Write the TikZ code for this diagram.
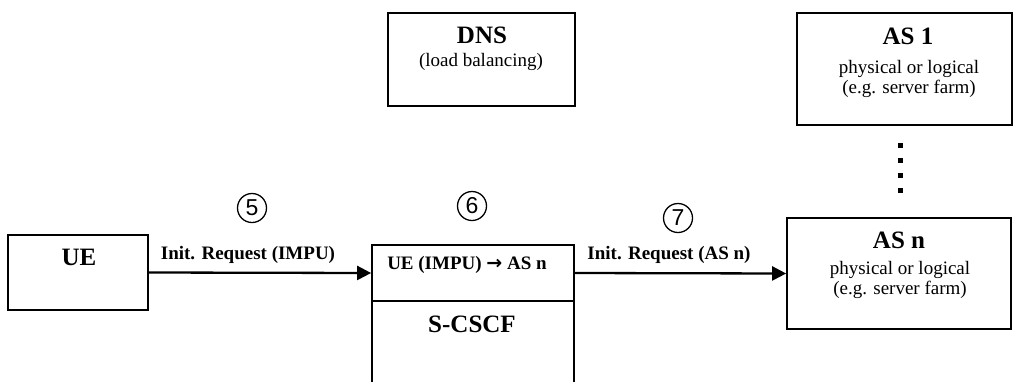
\documentclass[tikz,border=0pt]{standalone}
\usepackage{fontspec}
\setmainfont{Liberation Serif}
\newfontfamily\symfont{DejaVu Sans}
\newfontfamily\numfont{Liberation Sans}
\usetikzlibrary{arrows.meta,positioning}

\begin{document}
\begin{tikzpicture}[x=1pt, y=-1pt,
    box/.style={draw, line width=1.7pt, inner sep=0pt},
    head/.style={font=\fontsize{25}{28}\selectfont\bfseries, inner sep=0pt},
    body/.style={font=\fontsize{19}{20}\selectfont, align=center, inner sep=0pt},
    lbl/.style={font=\fontsize{19}{22}\selectfont\bfseries, inner sep=0pt},
    num/.style={circle, draw, line width=1.3pt, minimum size=29pt, inner sep=0pt,
                font=\fontsize{23}{24}\numfont},
    arr/.style={-{Triangle[length=14pt,width=14pt]}, line width=2.3pt}
  ]
    \useasboundingbox (0,0) rectangle (1013,381);

    % boxes
    \node[box, minimum width=187pt, minimum height=93pt] (dns) at (481.5,59.5) {};
    \node[box, minimum width=215pt, minimum height=112pt] (as1) at (904.5,69) {};
    \node[box, minimum width=224pt, minimum height=111pt] (asn) at (899,273.5) {};
    \node[box, minimum width=140pt, minimum height=75pt] (ue) at (78,272.5) {};
    \node[box, minimum width=202pt, minimum height=56pt] (map) at (473,273) {};
    \node[box, minimum width=202pt, minimum height=99pt, below=-1.7pt of map] (cscf) {};

    % texts
    \node[head] (dnsT) at (482,35) {DNS};
    \node[body] (dnsB) at (481,62) {(load balancing)};
    \node[head] (as1T) at (908,36) {AS 1};
    \node[body] (as1B) at (909,79) {physical or logical\\ (e.g. server farm)};
    \node[head] (asnT) at (899,240) {AS n};
    \node[body] (asnB) at (900,280) {physical or logical\\ (e.g. server farm)};
    \node[head] (ueT) at (79,257) {UE};
    \node[lbl] (mapT) at (467,265) {UE (IMPU) {\symfont\bfseries →} AS n};
    \node[head] (cscfT) at (472,324) {S-CSCF};

    % dots between AS 1 and AS n
    \coordinate (dtop) at (900,143);
    \coordinate (dbot) at (900,195);
    \draw[line width=5pt, dash pattern=on 5pt off 10pt] (dtop) -- (dbot);

    % requests
    \draw[arr] (ue.east) -- (map.west);
    \draw[arr] (map.east) -- (asn.west);
    \node[lbl] (req1) at (248,255) {Init. Request (IMPU)};
    \node[lbl] (req2) at (669,255) {Init. Request (AS n)};

    % step numbers
    \node[num] (n5) at (252,208) {5};
    \node[num] (n6) at (472,206) {6};
    \node[num] (n7) at (678,218) {7};
  \end{tikzpicture}
\end{document}
